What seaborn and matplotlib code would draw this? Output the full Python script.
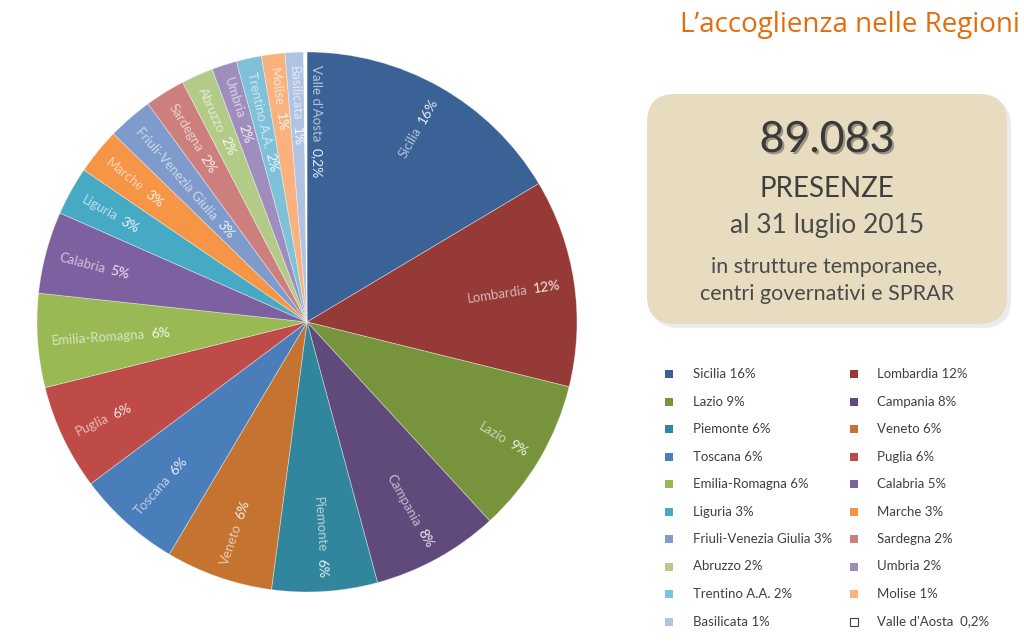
import numpy as np
import matplotlib
matplotlib.use("Agg")
import matplotlib.pyplot as plt
import matplotlib.patheffects as pe
from matplotlib.patches import FancyBboxPatch, Rectangle
from matplotlib.colors import to_rgb
import seaborn as sns

# data (share of total, %)
regions = ["Sicilia", "Lombardia", "Lazio", "Campania", "Piemonte", "Veneto",
           "Toscana", "Puglia", "Emilia-Romagna", "Calabria", "Liguria", "Marche",
           "Friuli-Venezia Giulia", "Sardegna", "Abruzzo", "Umbria", "Trentino A.A.",
           "Molise", "Basilicata", "Valle d'Aosta"]
shares = [16.4, 12.4, 9.3, 7.6, 6.3, 6.4, 6.25, 6.3, 5.6, 4.9, 2.9, 2.75,
          2.7, 2.4, 1.9, 1.5, 1.5, 1.4, 1.1, 0.2]
pct_labels = ["16%", "12%", "9%", "8%", "6%", "6%", "6%", "6%", "6%", "5%", "3%", "3%",
              "3%", "2%", "2%", "2%", "2%", "1%", "1%", "0,2%"]
colors = ["#3A6296", "#963A38", "#77933C", "#604A7B", "#31859C", "#C47330",
          "#4A7EBB", "#BE4B48", "#98B954", "#7D60A0", "#46AAC5", "#F69546",
          "#7E9BCB", "#CD7F7E", "#B3CB88", "#9F8DBE", "#7EC1D8", "#F9B27E",
          "#B0C3E3", "#FFFFFF"]

sns.set_style("white")
plt.rcParams["font.family"] = ["Lato", "DejaVu Sans"]

fig = plt.figure(figsize=(10.24, 6.44), dpi=100)
renderer = fig.canvas.get_renderer()

# pie: centre (307, 322) px, radius 270 px
R_PX = 270
ax = fig.add_axes([37 / 1024, 52 / 644, 540 / 1024, 540 / 644])
wedges, _ = ax.pie(shares, colors=colors, startangle=90, counterclock=False,
                   radius=1.0, wedgeprops=dict(edgecolor=(1, 1, 1, 0.4), linewidth=0.6))
ax.set_xlim(-1, 1)
ax.set_ylim(-1, 1)
ax.set_aspect("equal")
ax.axis("off")

def tint(c, k=0.62):
    r, g, b = to_rgb(c)
    return (r + (1 - r) * k, g + (1 - g) * k, b + (1 - b) * k)

# radial labels: name in a light tint, percentage brighter
for w, name, pct, col in zip(wedges, regions, pct_labels, colors):
    mid = (w.theta1 + w.theta2) / 2
    a = np.deg2rad(mid)
    base = colors[0] if name == "Valle d'Aosta" else col
    name_kw = dict(fontsize=9.5, color=tint(base, 0.62))
    pct_kw = dict(fontsize=10, color=tint(base, 0.88))
    if np.cos(a) >= 0:
        ha, rot = "right", mid
        parts = [(pct, pct_kw), (name, name_kw)]   # outer part first
    else:
        ha, rot = "left", mid - 180
        parts = [(name, name_kw), (pct, pct_kw)]
    # tiny last slice: its label sits just clockwise of the slice
    shift = 12 / R_PX if name == "Valle d'Aosta" else 0.0
    ox, oy = shift * np.sin(a), -shift * np.cos(a)
    r = 0.95
    for txt, kw in parts:
        t = ax.text(r * np.cos(a) + ox, r * np.sin(a) + oy, txt, rotation=0,
                    rotation_mode="anchor", ha=ha, va="center_baseline", **kw)
        width = t.get_window_extent(renderer).width
        t.set_rotation(rot)
        r -= (width + 6) / R_PX

# overlay in pixel coordinates
ov = fig.add_axes([0, 0, 1, 1], facecolor="none")
ov.set_xlim(0, 1024)
ov.set_ylim(644, 0)
ov.axis("off")

ov.text(1020, 25, "L\u2019accoglienza nelle Regioni", ha="right", va="center",
        fontsize=20, color="#E46C0A", family=["Open Sans", "DejaVu Sans"])

shadow = FancyBboxPatch((651, 98), 360, 230, boxstyle="round,pad=0,rounding_size=28",
                        facecolor="#000000", alpha=0.08, edgecolor="none")
ov.add_patch(shadow)
box = FancyBboxPatch((647, 94), 360, 230, boxstyle="round,pad=0,rounding_size=28",
                     facecolor="#E8DCC0", edgecolor="none")
ov.add_patch(box)

ov.text(827, 140, "89.083", ha="center", va="center", fontsize=31, color="#3A3A3A",
        path_effects=[pe.withSimplePatchShadow(offset=(1.5, -1.5), alpha=0.35)])
ov.text(827, 189, "PRESENZE", ha="center", va="center", fontsize=20, color="#3F3F3F")
ov.text(827, 225, "al 31 luglio 2015", ha="center", va="center", fontsize=19,
        color="#4A4A4A")
ov.text(827, 267, "in strutture temporanee,", ha="center", va="center", fontsize=15.5,
        color="#4A4A4A")
ov.text(827, 294, "centri governativi e SPRAR", ha="center", va="center", fontsize=15.5,
        color="#4A4A4A")

# legend, row-major in two columns
for i, (name, pct, col) in enumerate(zip(regions, pct_labels, colors)):
    row, c = divmod(i, 2)
    mx = 669 if c == 0 else 854
    tx = 693 if c == 0 else 877
    yy = 374 + row * 27.5
    ov.add_patch(Rectangle((mx - 4, yy - 4), 8, 8, facecolor=col,
                           edgecolor="#404040" if col == "#FFFFFF" else "none", linewidth=0.8))
    sep = "  " if name == "Valle d'Aosta" else " "
    ov.text(tx, yy, f"{name}{sep}{pct}", ha="left", va="center", fontsize=9.5, color="#404040")

fig.savefig("out.png", dpi=100)
